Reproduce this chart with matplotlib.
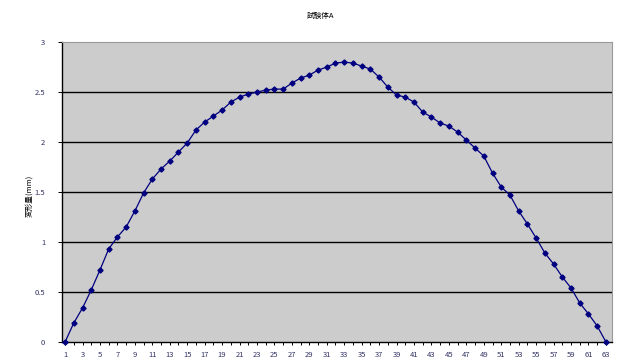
import matplotlib
matplotlib.use("Agg")
import matplotlib.pyplot as plt
import numpy as np

plt.rcParams['font.family'] = ['Noto Sans CJK JP', 'DejaVu Sans']

# 測定点番号と変形量(mm)
points = list(range(1, 64))
disp = [0.00, 0.19, 0.34, 0.52, 0.72, 0.93, 1.05, 1.15, 1.31, 1.49,
        1.63, 1.73, 1.81, 1.90, 1.99, 2.12, 2.20, 2.26, 2.32, 2.40,
        2.45, 2.48, 2.50, 2.52, 2.53, 2.53, 2.59, 2.64, 2.67, 2.72,
        2.75, 2.79, 2.80, 2.79, 2.76, 2.73, 2.65, 2.55, 2.47, 2.45,
        2.40, 2.30, 2.25, 2.19, 2.16, 2.10, 2.02, 1.94, 1.86, 1.69,
        1.55, 1.47, 1.31, 1.18, 1.04, 0.89, 0.78, 0.65, 0.54, 0.39,
        0.28, 0.16, 0.00]
title = "試験体A"
ylabel = "変形量(mm)"
yticks = [0, 0.5, 1, 1.5, 2, 2.5, 3]
xtick_labels = list(range(1, 64, 2))

fig = plt.figure(figsize=(6.29, 3.63), dpi=100)
ax = fig.add_axes([0.0986, 0.058, 0.8744, 0.826])
ax.set_facecolor("#cccccc")

ax.plot(points, disp, color="#000080", lw=0.9, marker="D", ms=2.6,
        markerfacecolor="#000080", markeredgecolor="#000080", zorder=3,
        clip_on=False)

ax.set_xlim(0.65, 63.7)
ax.set_ylim(0, 3)
ax.set_yticks(yticks)
ax.set_yticklabels([f"{v:g}" for v in yticks])
ax.set_xticks(xtick_labels)
ax.set_xticks(points, minor=True)
ax.set_xticklabels([str(v) for v in xtick_labels])

for v in yticks[1:-1]:
    ax.axhline(v, color="black", lw=1.0, zorder=1)

ax.tick_params(axis="x", which="both", direction="out", length=2.5,
               width=0.7, labelsize=5.5, pad=4, colors="black",
               labelcolor="#333366")
ax.tick_params(axis="y", direction="out", length=3, width=0.7,
               labelsize=5.5, pad=9, labelcolor="#333366")

ax.spines["left"].set_color("black")
ax.spines["bottom"].set_color("black")
ax.spines["left"].set_linewidth(1.0)
ax.spines["bottom"].set_linewidth(1.0)
ax.spines["top"].set_color("#999999")
ax.spines["right"].set_color("#999999")

fig.text(0.509, 0.955, title, ha="center", va="center", fontsize=5.5)
fig.text(0.047, 0.46, ylabel, rotation=90, ha="center", va="center",
         fontsize=5.5)

fig.savefig("out.png", dpi=100)
